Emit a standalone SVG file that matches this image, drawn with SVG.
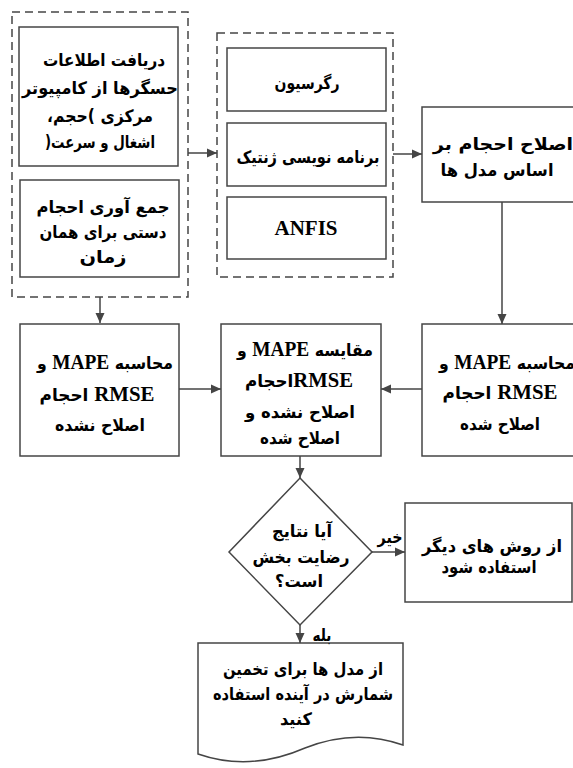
<svg xmlns="http://www.w3.org/2000/svg" width="573" height="768" viewBox="0 0 573 768">
<style>
.box{fill:#fff;stroke:#454545;stroke-width:1.5}
.dash{fill:none;stroke:#454545;stroke-width:1.5;stroke-dasharray:8,5}
.ln{fill:none;stroke:#454545;stroke-width:1.5}
.t{font-family:"DejaVu Sans","Liberation Serif",serif;font-weight:bold;font-size:17px;fill:#000;text-anchor:middle;direction:rtl}
.lat{font-family:"Liberation Serif","Times New Roman",serif;font-size:21px;font-weight:bold}
</style>
<defs>
<marker id="ah" viewBox="0 0 10 10" refX="10" refY="5" markerWidth="10" markerHeight="10" markerUnits="userSpaceOnUse" orient="auto">
<path d="M0,0.5 L10,5 L0,9.5 z" fill="#454545"/>
</marker>
</defs>
<g id="group-input">
<rect class="dash" x="12" y="12" width="176" height="285"/>
</g>
<g id="n-data">
<rect class="box" x="19" y="27" width="159" height="139"/>
<text class="t" x="104" y="66" textLength="122" lengthAdjust="spacingAndGlyphs">دریافت اطلاعات</text>
<text class="t" x="100" y="94" textLength="156" lengthAdjust="spacingAndGlyphs">حسگرها از کامپیوتر</text>
<text class="t" x="100" y="122" textLength="106" lengthAdjust="spacingAndGlyphs">مرکزی )حجم،</text>
<text class="t" x="100" y="148" textLength="110" lengthAdjust="spacingAndGlyphs">اشغال و سرعت(</text>
</g>
<g id="n-manual">
<rect class="box" x="20" y="180" width="159" height="97"/>
<text class="t" x="103" y="213" textLength="133" lengthAdjust="spacingAndGlyphs">جمع آوری احجام</text>
<text class="t" x="103" y="238" textLength="127" lengthAdjust="spacingAndGlyphs">دستی برای همان</text>
<text class="t" x="103" y="263" textLength="47" lengthAdjust="spacingAndGlyphs">زمان</text>
</g>
<g id="group-models">
<rect class="dash" x="217" y="33" width="176" height="244"/>
</g>
<g id="n-reg">
<rect class="box" x="227" y="48" width="159" height="63"/>
<text class="t" x="307" y="89" textLength="65" lengthAdjust="spacingAndGlyphs">رگرسیون</text>
</g>
<g id="n-gp">
<rect class="box" x="227" y="123" width="159" height="63"/>
<text class="t" x="308" y="163" textLength="143" lengthAdjust="spacingAndGlyphs">برنامه نویسی ژنتیک</text>
</g>
<g id="n-anfis">
<rect class="box" x="227" y="197" width="159" height="62"/>
<text class="t lat" x="306" y="235" style="direction:ltr">ANFIS</text>
</g>
<g id="n-correct">
<rect class="box" x="422" y="107" width="162" height="95"/>
<text class="t" x="503" y="150" textLength="140" lengthAdjust="spacingAndGlyphs">اصلاح احجام بر</text>
<text class="t" x="497" y="176" textLength="113" lengthAdjust="spacingAndGlyphs">اساس مدل ها</text>
</g>
<g id="n-mape-un">
<rect class="box" x="20" y="324" width="159" height="132"/>
<text class="t" x="105" y="369" textLength="136" lengthAdjust="spacingAndGlyphs">محاسبه <tspan class="lat">MAPE</tspan> و</text>
<text class="t" x="97" y="401" textLength="115" lengthAdjust="spacingAndGlyphs"><tspan class="lat">RMSE</tspan> احجام</text>
<text class="t" x="100" y="431" textLength="90" lengthAdjust="spacingAndGlyphs">اصلاح نشده</text>
</g>
<g id="n-compare">
<rect class="box" x="221" y="324" width="160" height="132"/>
<text class="t" x="305" y="356" textLength="136" lengthAdjust="spacingAndGlyphs">مقایسه <tspan class="lat">MAPE</tspan> و</text>
<text class="t" x="299" y="387" textLength="108" lengthAdjust="spacingAndGlyphs"><tspan class="lat">RMSE</tspan>احجام</text>
<text class="t" x="300" y="418" textLength="110" lengthAdjust="spacingAndGlyphs">اصلاح نشده و</text>
<text class="t" x="300" y="444" textLength="80" lengthAdjust="spacingAndGlyphs">اصلاح شده</text>
</g>
<g id="n-mape-cor">
<rect class="box" x="422" y="324" width="162" height="132"/>
<text class="t" x="507" y="369" textLength="136" lengthAdjust="spacingAndGlyphs">محاسبه <tspan class="lat">MAPE</tspan> و</text>
<text class="t" x="500" y="399" textLength="115" lengthAdjust="spacingAndGlyphs"><tspan class="lat">RMSE</tspan> احجام</text>
<text class="t" x="500" y="430" textLength="80" lengthAdjust="spacingAndGlyphs">اصلاح شده</text>
</g>
<g id="n-decision">
<path class="box" d="M300,478 L372,552 L300,625 L229,552 Z"/>
<text class="t" x="302" y="537" textLength="60" lengthAdjust="spacingAndGlyphs">آیا نتایج</text>
<text class="t" x="301" y="563" textLength="97" lengthAdjust="spacingAndGlyphs">رضایت بخش</text>
<text class="t" x="299" y="587" textLength="48" lengthAdjust="spacingAndGlyphs">است؟</text>
</g>
<g id="n-other">
<rect class="box" x="405" y="503" width="167" height="99"/>
<text class="t" x="492" y="552" textLength="140" lengthAdjust="spacingAndGlyphs">از روش های دیگر</text>
<text class="t" x="489" y="573" textLength="95" lengthAdjust="spacingAndGlyphs">استفاده شود</text>
</g>
<g id="n-use">
<path class="box" d="M198,643 H403 V745 Q355,728 305,748 Q250,772 198,754 Z"/>
<text class="t" x="303" y="675" textLength="160" lengthAdjust="spacingAndGlyphs">از مدل ها برای تخمین</text>
<text class="t" x="303" y="700" textLength="180" lengthAdjust="spacingAndGlyphs">شمارش در آینده استفاده</text>
<text class="t" x="296" y="725" textLength="32" lengthAdjust="spacingAndGlyphs">کنید</text>
</g>
<g id="connectors">
<path class="ln" d="M188,153 H217" marker-end="url(#ah)"/>
<path class="ln" d="M393,154 H422" marker-end="url(#ah)"/>
<path class="ln" d="M502,202 V324" marker-end="url(#ah)"/>
<path class="ln" d="M100,297 V323" marker-end="url(#ah)"/>
<path class="ln" d="M179,389 H221" marker-end="url(#ah)"/>
<path class="ln" d="M422,389 H381" marker-end="url(#ah)"/>
<path class="ln" d="M300,456 V478" marker-end="url(#ah)"/>
<path class="ln" d="M372,552 H405" marker-end="url(#ah)"/>
<path class="ln" d="M300,625 V643" marker-end="url(#ah)"/>
<text class="t" x="390" y="543" textLength="25" lengthAdjust="spacingAndGlyphs">خیر</text>
<text class="t" x="322" y="641" textLength="19" lengthAdjust="spacingAndGlyphs">بله</text>
</g>
</svg>
